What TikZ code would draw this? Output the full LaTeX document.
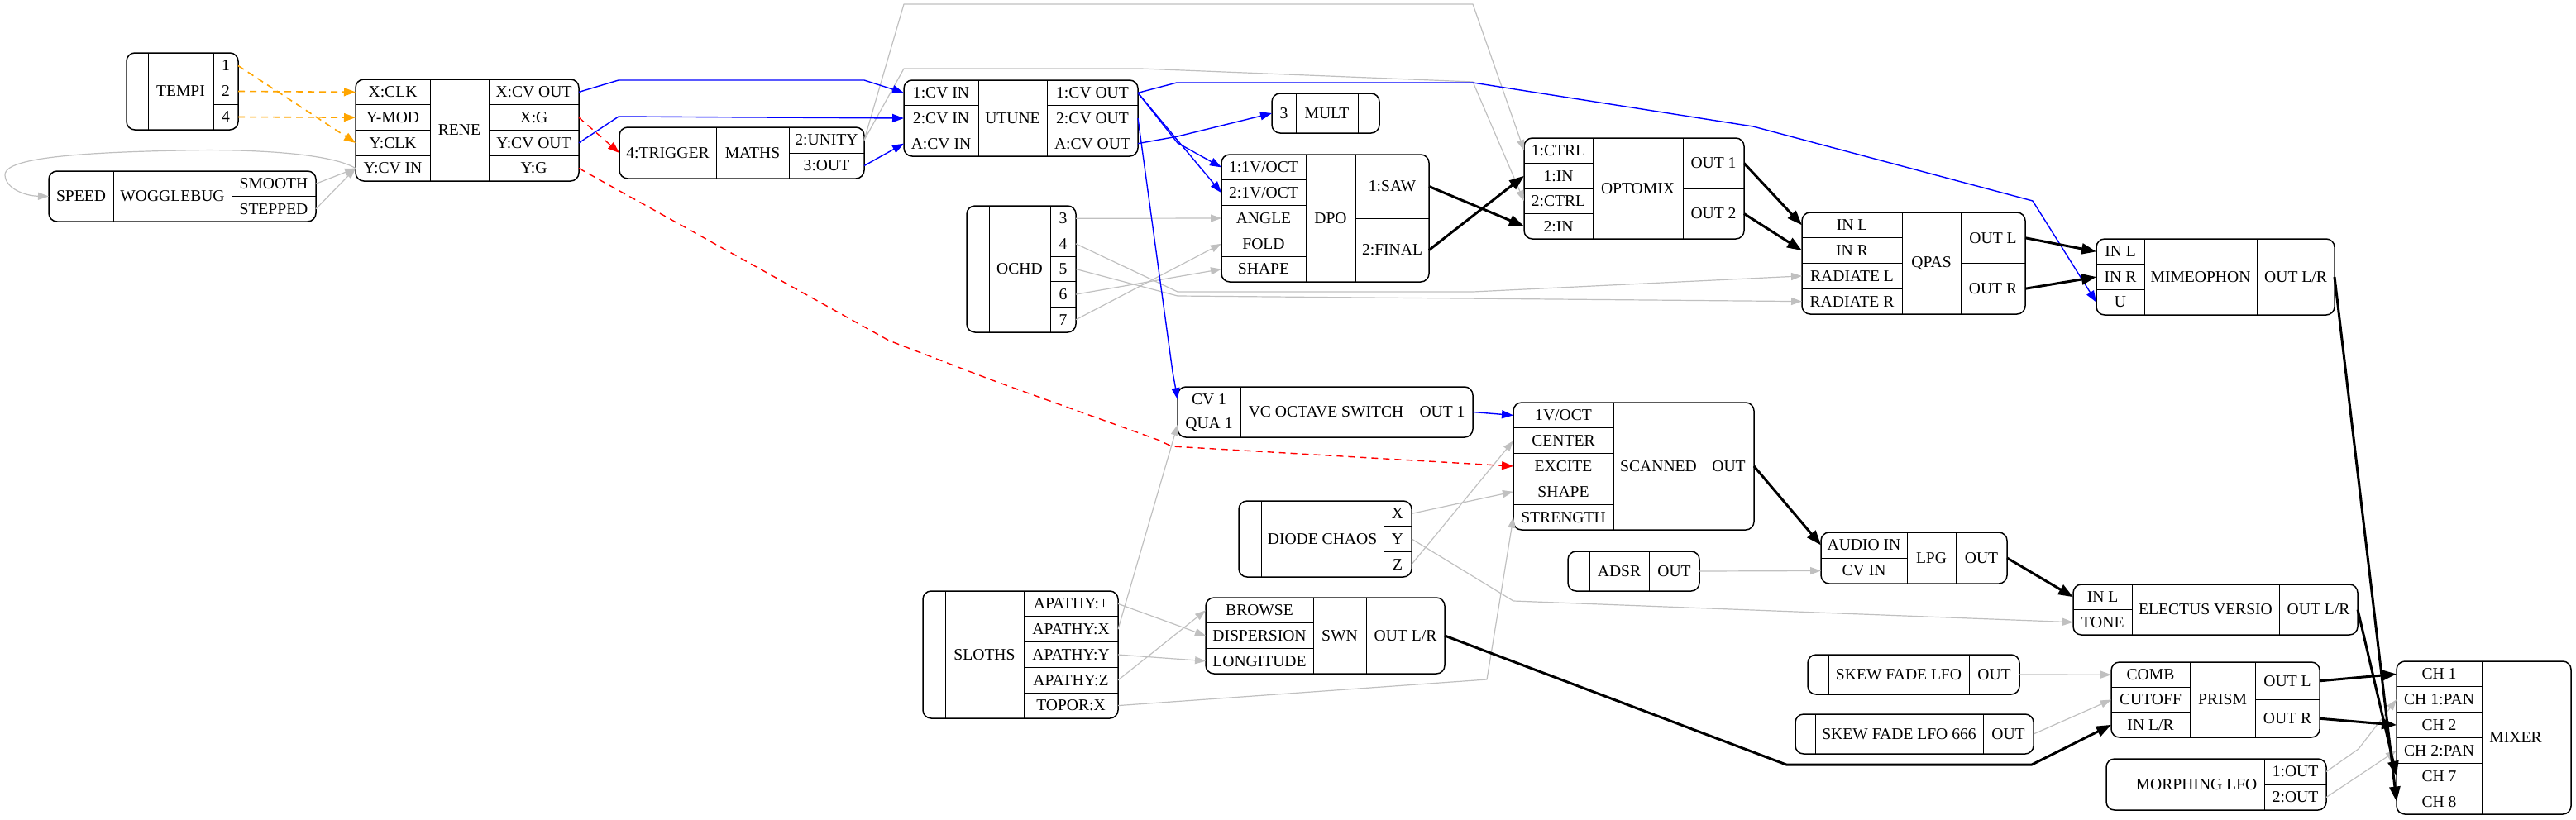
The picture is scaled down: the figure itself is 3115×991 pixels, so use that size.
\documentclass[tikz,border=0pt]{standalone}
\usepackage{fontspec}
\setmainfont{Liberation Serif}
\usetikzlibrary{arrows.meta,fit}
\definecolor{egray}{RGB}{192,192,192}
\definecolor{eblue}{RGB}{0,0,255}
\definecolor{ered}{RGB}{255,0,0}
\definecolor{eorange}{RGB}{255,165,0}
\tikzset{
  cellst/.style={draw=black, line width=0.5pt, inner sep=0pt, outer sep=0pt, anchor=north west, font=\fontsize{9.8}{11}\selectfont},
  recframe/.style={draw=black, line width=0.75pt, rounded corners=5pt, inner sep=0pt, outer sep=0pt},
  ge/.style={draw=egray, line width=0.6pt, line join=round, -{Triangle[length=6.5pt,width=4.5pt]}},
  be/.style={draw=eblue, line width=0.7pt, line join=round, -{Triangle[length=7pt,width=5pt]}},
  oe/.style={draw=eorange, line width=0.8pt, dash pattern=on 4pt off 3pt, -{Triangle[length=7pt,width=5pt]}},
  re/.style={draw=ered, line width=0.7pt, line join=round, dash pattern=on 4pt off 3pt, -{Triangle[length=7pt,width=5pt]}},
  ke/.style={draw=black, line width=1.5pt, line join=round, -{Triangle[length=9pt,width=6.5pt]}},
}
\newcommand\fld[6]{\node[cellst, minimum width=#4*0.5pt, minimum height=#5*0.5pt] (#1) at (#2,#3) {#6};}
\newcommand\mrec[6]{\begin{scope}\clip[rounded corners=5pt] (#2,#3) rectangle (#4,#5);#6\end{scope}\node[recframe, fit={(#2,#3) (#4,#5)}] (#1) {};}
\begin{document}
\begin{tikzpicture}[x=0.5pt,y=-0.5pt]
\useasboundingbox (0,0) rectangle (3115,991);

\mrec{tempi}{153}{64}{288}{157}{%
\fld{tempi-e}{153}{64}{26}{93}{}
\fld{tempi-l}{179}{64}{79}{93}{TEMPI}
\fld{tempi-1}{258}{64}{30}{31}{1}
\fld{tempi-2}{258}{95}{30}{31}{2}
\fld{tempi-4}{258}{126}{30}{31}{4}}

\mrec{rene}{430}{96}{700}{219}{%
\fld{rene-xclk}{430}{96}{90}{30.75}{X:CLK}
\fld{rene-ymod}{430}{126.75}{90}{30.75}{Y-MOD}
\fld{rene-yclk}{430}{157.5}{90}{30.75}{Y:CLK}
\fld{rene-ycvin}{430}{188.25}{90}{30.75}{Y:CV IN}
\fld{rene-l}{520}{96}{71}{123}{RENE}
\fld{rene-xcvout}{591}{96}{109}{30.75}{X:CV OUT}
\fld{rene-xg}{591}{126.75}{109}{30.75}{X:G}
\fld{rene-ycvout}{591}{157.5}{109}{30.75}{Y:CV OUT}
\fld{rene-yg}{591}{188.25}{109}{30.75}{Y:G}}

\mrec{wog}{59}{207}{382}{268}{%
\fld{wog-speed}{59}{207}{78}{61}{SPEED}
\fld{wog-l}{137}{207}{143}{61}{WOGGLEBUG}
\fld{wog-smooth}{280}{207}{102}{30.5}{SMOOTH}
\fld{wog-stepped}{280}{237.5}{102}{30.5}{STEPPED}}

\mrec{maths}{749}{154}{1045}{216}{%
\fld{maths-trig}{749}{154}{117}{62}{4:TRIGGER}
\fld{maths-l}{866}{154}{88}{62}{MATHS}
\fld{maths-unity}{954}{154}{91}{31}{2:UNITY}
\fld{maths-out}{954}{185}{91}{31}{3:OUT}}

\mrec{ut}{1093}{97}{1376}{189}{%
\fld{ut-in1}{1093}{97}{90}{30.67}{1:CV IN}
\fld{ut-in2}{1093}{127.67}{90}{30.67}{2:CV IN}
\fld{ut-ina}{1093}{158.33}{90}{30.67}{A:CV IN}
\fld{ut-l}{1183}{97}{83}{92}{UTUNE}
\fld{ut-out1}{1266}{97}{110}{30.67}{1:CV OUT}
\fld{ut-out2}{1266}{127.67}{110}{30.67}{2:CV OUT}
\fld{ut-outa}{1266}{158.33}{110}{30.67}{A:CV OUT}}

\mrec{mult}{1538}{113}{1668}{161}{%
\fld{mult-3}{1538}{113}{29}{48}{3}
\fld{mult-l}{1567}{113}{75}{48}{MULT}
\fld{mult-e}{1642}{113}{26}{48}{}}

\mrec{dpo}{1477}{187}{1728}{341}{%
\fld{dpo-v1}{1477}{187}{102}{30.8}{1:1V/OCT}
\fld{dpo-v2}{1477}{217.8}{102}{30.8}{2:1V/OCT}
\fld{dpo-angle}{1477}{248.6}{102}{30.8}{ANGLE}
\fld{dpo-fold}{1477}{279.4}{102}{30.8}{FOLD}
\fld{dpo-shape}{1477}{310.2}{102}{30.8}{SHAPE}
\fld{dpo-l}{1579}{187}{60}{154}{DPO}
\fld{dpo-saw}{1639}{187}{89}{77}{1:SAW}
\fld{dpo-final}{1639}{264}{89}{77}{2:FINAL}}

\mrec{ochd}{1169}{249}{1301}{402}{%
\fld{ochd-e}{1169}{249}{27}{153}{}
\fld{ochd-l}{1196}{249}{74}{153}{OCHD}
\fld{ochd-3}{1270}{249}{31}{30.6}{3}
\fld{ochd-4}{1270}{279.6}{31}{30.6}{4}
\fld{ochd-5}{1270}{310.2}{31}{30.6}{5}
\fld{ochd-6}{1270}{340.8}{31}{30.6}{6}
\fld{ochd-7}{1270}{371.4}{31}{30.6}{7}}

\mrec{opto}{1843}{167}{2109}{289}{%
\fld{opto-ctrl1}{1843}{167}{83}{30.5}{1:CTRL}
\fld{opto-in1}{1843}{197.5}{83}{30.5}{1:IN}
\fld{opto-ctrl2}{1843}{228}{83}{30.5}{2:CTRL}
\fld{opto-in2}{1843}{258.5}{83}{30.5}{2:IN}
\fld{opto-l}{1926}{167}{109}{122}{OPTOMIX}
\fld{opto-out1}{2035}{167}{74}{61}{OUT 1}
\fld{opto-out2}{2035}{228}{74}{61}{OUT 2}}

\mrec{qpas}{2179}{257}{2449}{380}{%
\fld{qpas-inl}{2179}{257}{121}{30.75}{IN L}
\fld{qpas-inr}{2179}{287.75}{121}{30.75}{IN R}
\fld{qpas-radl}{2179}{318.5}{121}{30.75}{RADIATE L}
\fld{qpas-radr}{2179}{349.25}{121}{30.75}{RADIATE R}
\fld{qpas-l}{2300}{257}{71}{123}{QPAS}
\fld{qpas-outl}{2371}{257}{78}{61.5}{OUT L}
\fld{qpas-outr}{2371}{318.5}{78}{61.5}{OUT R}}

\mrec{mime}{2535}{289}{2823}{381}{%
\fld{mime-inl}{2535}{289}{58}{30.67}{IN L}
\fld{mime-inr}{2535}{319.67}{58}{30.67}{IN R}
\fld{mime-u}{2535}{350.33}{58}{30.67}{U}
\fld{mime-l}{2593}{289}{136}{92}{MIMEOPHON}
\fld{mime-out}{2729}{289}{94}{92}{OUT L/R}}

\mrec{vc}{1424}{468}{1781}{529}{%
\fld{vc-cv1}{1424}{468}{76}{30.5}{CV 1}
\fld{vc-qua}{1424}{498.5}{76}{30.5}{QUA 1}
\fld{vc-l}{1500}{468}{207}{61}{VC OCTAVE SWITCH}
\fld{vc-out}{1707}{468}{74}{61}{OUT 1}}

\mrec{scan}{1830}{487}{2121}{641}{%
\fld{scan-v}{1830}{487}{121}{30.8}{1V/OCT}
\fld{scan-center}{1830}{517.8}{121}{30.8}{CENTER}
\fld{scan-excite}{1830}{548.6}{121}{30.8}{EXCITE}
\fld{scan-shape}{1830}{579.4}{121}{30.8}{SHAPE}
\fld{scan-strength}{1830}{610.2}{121}{30.8}{STRENGTH}
\fld{scan-l}{1951}{487}{109}{154}{SCANNED}
\fld{scan-out}{2060}{487}{61}{154}{OUT}}

\mrec{dc}{1498}{606}{1707}{698}{%
\fld{dc-e}{1498}{606}{27}{92}{}
\fld{dc-l}{1525}{606}{148}{92}{DIODE CHAOS}
\fld{dc-x}{1673}{606}{34}{30.67}{X}
\fld{dc-y}{1673}{636.67}{34}{30.67}{Y}
\fld{dc-z}{1673}{667.33}{34}{30.67}{Z}}

\mrec{adsr}{1896}{667}{2055}{715}{%
\fld{adsr-e}{1896}{667}{26}{48}{}
\fld{adsr-l}{1922}{667}{72}{48}{ADSR}
\fld{adsr-out}{1994}{667}{61}{48}{OUT}}

\mrec{lpg}{2202}{644}{2427}{706}{%
\fld{lpg-audio}{2202}{644}{104}{31}{AUDIO IN}
\fld{lpg-cvin}{2202}{675}{104}{31}{CV IN}
\fld{lpg-l}{2306}{644}{59}{62}{LPG}
\fld{lpg-out}{2365}{644}{62}{62}{OUT}}

\mrec{ev}{2507}{707}{2851}{768}{%
\fld{ev-inl}{2507}{707}{71}{30.5}{IN L}
\fld{ev-tone}{2507}{737.5}{71}{30.5}{TONE}
\fld{ev-l}{2578}{707}{178}{61}{ELECTUS VERSIO}
\fld{ev-out}{2756}{707}{95}{61}{OUT L/R}}

\mrec{sl}{1116}{715}{1352}{869}{%
\fld{sl-e}{1116}{715}{27}{154}{}
\fld{sl-l}{1143}{715}{95}{154}{SLOTHS}
\fld{sl-plus}{1238}{715}{114}{30.8}{APATHY:+}
\fld{sl-x}{1238}{745.8}{114}{30.8}{APATHY:X}
\fld{sl-y}{1238}{776.6}{114}{30.8}{APATHY:Y}
\fld{sl-z}{1238}{807.4}{114}{30.8}{APATHY:Z}
\fld{sl-topor}{1238}{838.2}{114}{30.8}{TOPOR:X}}

\mrec{swn}{1458}{723}{1747}{815}{%
\fld{swn-browse}{1458}{723}{130}{30.67}{BROWSE}
\fld{swn-disp}{1458}{753.67}{130}{30.67}{DISPERSION}
\fld{swn-long}{1458}{784.33}{130}{30.67}{LONGITUDE}
\fld{swn-l}{1588}{723}{64}{92}{SWN}
\fld{swn-out}{1652}{723}{95}{92}{OUT L/R}}

\mrec{sf}{2186}{792}{2442}{840}{%
\fld{sf-e}{2186}{792}{25}{48}{}
\fld{sf-l}{2211}{792}{170}{48}{SKEW FADE LFO}
\fld{sf-out}{2381}{792}{61}{48}{OUT}}

\mrec{sfb}{2171}{864}{2459}{912}{%
\fld{sfb-e}{2171}{864}{24}{48}{}
\fld{sfb-l}{2195}{864}{203}{48}{SKEW FADE LFO 666}
\fld{sfb-out}{2398}{864}{61}{48}{OUT}}

\mrec{prism}{2553}{801}{2805}{892}{%
\fld{prism-comb}{2553}{801}{95}{30.33}{COMB}
\fld{prism-cutoff}{2553}{831.33}{95}{30.33}{CUTOFF}
\fld{prism-inlr}{2553}{861.67}{95}{30.33}{IN L/R}
\fld{prism-l}{2648}{801}{79}{91}{PRISM}
\fld{prism-outl}{2727}{801}{78}{45.5}{OUT L}
\fld{prism-outr}{2727}{846.5}{78}{45.5}{OUT R}}

\mrec{ml}{2547}{918}{2813}{980}{%
\fld{ml-e}{2547}{918}{27}{62}{}
\fld{ml-l}{2574}{918}{164}{62}{MORPHING LFO}
\fld{ml-1}{2738}{918}{75}{31}{1:OUT}
\fld{ml-2}{2738}{949}{75}{31}{2:OUT}}

\mrec{mix}{2898}{800}{3109}{985}{%
\fld{mix-ch1}{2898}{800}{103}{30.83}{CH 1}
\fld{mix-ch1pan}{2898}{830.83}{103}{30.83}{CH 1:PAN}
\fld{mix-ch2}{2898}{861.67}{103}{30.83}{CH 2}
\fld{mix-ch2pan}{2898}{892.5}{103}{30.83}{CH 2:PAN}
\fld{mix-ch7}{2898}{923.33}{103}{30.83}{CH 7}
\fld{mix-ch8}{2898}{954.17}{103}{30.83}{CH 8}
\fld{mix-l}{3001}{800}{82}{185}{MIXER}
\fld{mix-e}{3083}{800}{26}{185}{}}

% orange dashed
\draw[oe] (tempi-1.east) -- (rene-yclk.west);
\draw[oe] (tempi-2.east) -- (rene-xclk.west);
\draw[oe] (tempi-4.east) -- (rene-ymod.west);

% gray
\draw[ge] (wog-smooth.east) -- (rene-ycvin.west);
\draw[ge] (wog-stepped.east) -- (rene-ycvin.west);
\draw[ge] (rene-ycvin.west) .. controls (400,185) and (300,180) .. (220,182) .. controls (60,185) and (5,195) .. (6,212) .. controls (7,228) and (30,237) .. (wog-speed.west);
\draw[ge] (maths-unity.east) -- (1093,5) -- (1781,5) -- (opto-ctrl1.west);
\draw[ge] (maths-unity.east) -- (1093,83) -- (1380,83) -- (1781,99) -- (opto-ctrl2.west);
\draw[ge] (ochd-3.east) -- (dpo-angle.west);
\draw[ge] (ochd-4.east) -- (1424,353) -- (1781,353) -- (qpas-radl.west);
\draw[ge] (ochd-5.east) -- (1424,358) -- (qpas-radr.west);
\draw[ge] (ochd-6.east) -- (dpo-shape.west);
\draw[ge] (ochd-7.east) -- (dpo-fold.west);
\draw[ge] (dc-x.east) -- (scan-shape.west);
\draw[ge] (dc-z.east) -- (scan-center.west);
\draw[ge] (dc-y.east) -- (1830,727) -- (ev-tone.west);
\draw[ge] (sl-x.east) -- (vc-qua.west);
\draw[ge] (sl-plus.east) -- (swn-disp.west);
\draw[ge] (sl-y.east) -- (swn-long.west);
\draw[ge] (sl-z.east) -- (swn-browse.west);
\draw[ge] (sl-topor.east) -- (1798,822) -- (scan-strength.west);
\draw[ge] (adsr-out.east) -- (lpg-cvin.west);
\draw[ge] (sf-out.east) -- (prism-comb.west);
\draw[ge] (sfb-out.east) -- (prism-cutoff.west);
\draw[ge] (ml-1.east) -- (2852,906) -- (mix-ch1pan.west);
\draw[ge] (ml-2.east) -- (mix-ch2pan.west);

% blue
\draw[be] (rene-xcvout.east) -- (748,97) -- (1045,97) -- (ut-in1.west);
\draw[be] (rene-ycvout.east) -- (748,141) -- (ut-in2.west);
\draw[be] (maths-out.east) -- (ut-ina.west);
\draw[be] (ut-out1.east) -- (1424,173) -- (dpo-v1.west);
\draw[be] (ut-out1.east) -- (dpo-v2.west);
\draw[be] (ut-out2.east) -- (1418,450) -- (vc-cv1.west);
\draw[be] (ut-outa.east) -- (1424,165) -- (mult-3.west);
\draw[be] (ut-out1.east) -- (1423,100) -- (1781,100) -- (2120,153) -- (2458,243) -- (mime-u.west);
\draw[be] (vc-out.east) -- (scan-v.west);

% red dashed
\draw[re] (rene-xg.east) -- (maths-trig.west);
\draw[re] (rene-yg.east) -- (1075,412) -- (1200,460) -- (1400,532) -- (1417,540) -- (scan-excite.west);

% black bold
\draw[ke] (dpo-saw.east) -- (opto-in2.west);
\draw[ke] (dpo-final.east) -- (opto-in1.west);
\draw[ke] (opto-out1.east) -- (qpas-inl.west);
\draw[ke] (opto-out2.east) -- (qpas-inr.west);
\draw[ke] (qpas-outl.east) -- (mime-inl.west);
\draw[ke] (qpas-outr.east) -- (mime-inr.west);
\draw[ke] (scan-out.east) -- (lpg-audio.west);
\draw[ke] (lpg-out.east) -- (ev-inl.west);
\draw[ke] (mime-out.east) -- (mix-ch8.west);
\draw[ke] (ev-out.east) -- (mix-ch7.west);
\draw[ke] (prism-outl.east) -- (mix-ch1.west);
\draw[ke] (prism-outr.east) -- (mix-ch2.west);
\draw[ke] (swn-out.east) -- (2160,925) -- (2457,925) -- (prism-inlr.west);
\end{tikzpicture}
\end{document}
